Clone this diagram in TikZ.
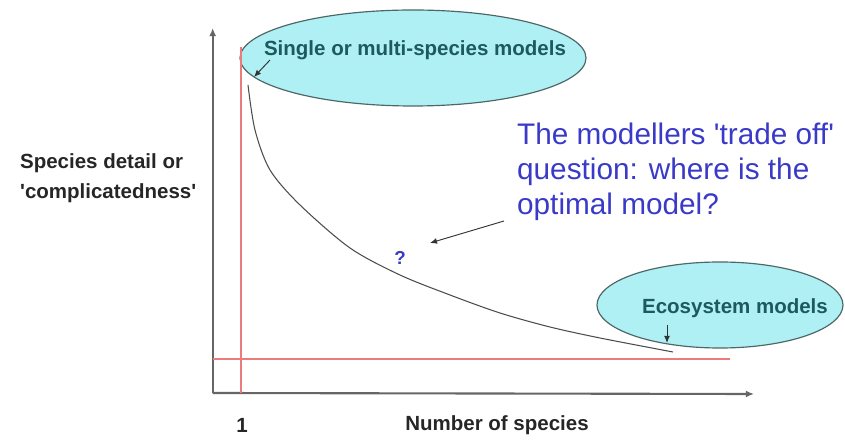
\documentclass[tikz,border=0pt]{standalone}
\usepackage{fontspec}
\setmainfont{Liberation Sans}
\usetikzlibrary{shapes.geometric,arrows.meta}

\definecolor{axisgray}{HTML}{666666}
\definecolor{guidered}{HTML}{EE7B7B}
\definecolor{bubblefill}{HTML}{AEF0F4}
\definecolor{bubbleedge}{HTML}{4E6666}
\definecolor{tealtext}{HTML}{1D5A5E}
\definecolor{askblue}{HTML}{3A3AC8}

\tikzset{
  axis/.style={draw=axisgray,line width=1.8pt,-{Latex[length=7pt,width=6pt]}},
  guide/.style={draw=guidered,line width=1.1pt},
  bubble/.style={ellipse,draw=bubbleedge,fill=bubblefill,line width=1pt,inner sep=0pt},
  bubbletext/.style={font=\bfseries\fontsize{17.5}{21}\selectfont,text=tealtext},
  label/.style={font=\bfseries\fontsize{17.5}{25.5}\selectfont,text=black!85},
  pointer/.style={draw=black!80,line width=0.8pt,-{Latex[length=6pt,width=5pt]}}
}

\begin{document}
\begin{tikzpicture}[x=0.3mm,y=0.3mm]
\useasboundingbox (0,0) rectangle (845,441);

% axes
\coordinate (origin) at (212.7,48);
\coordinate (ytop) at (212.7,413);
\coordinate (xend) at (754,47);
\draw[axis] (origin) -- (ytop);
\draw[axis] (origin) -- (xend);

% bubbles
\node[bubble,minimum width=103.8mm,minimum height=28.8mm] (single) at (413,383) {};
\node[bubble,minimum width=73.8mm,minimum height=25.8mm] (eco) at (720,136) {};
\node[bubbletext] (singletxt) at (415,391) {Single or multi-species models};
\node[bubbletext] (ecotxt) at (735,133) {Ecosystem models};

% one species / baseline guides
\coordinate (redtop) at (241,394);
\coordinate (redbot) at (241,48);
\coordinate (redleft) at (212.7,82);
\coordinate (redright) at (730,82);
\draw[guide] (redtop) -- (redbot);
\draw[guide] (redleft) -- (redright);

% trade off curve
\draw[draw=black!70,line width=0.9pt] plot[smooth] coordinates {
  (248,356) (255,311) (270,271) (300,236) (350,193) (400,166)
  (450,146) (500,128) (550,114) (600,103) (673,89)};

% pointers
\coordinate (singletip) at (254,364);
\coordinate (singlefrom) at (270,381);
\coordinate (ecofrom) at (667,116);
\coordinate (ecotip) at (667,98);
\draw[pointer] (singlefrom) -- (singletip);
\draw[pointer] (ecofrom) -- (ecotip);

\node[align=left,anchor=west,text=askblue,font=\fontsize{25.4}{29.8}\selectfont] (question) at (513,269)
  {The modellers \textquotesingle trade off\textquotesingle\\question: where is the\\optimal model?};
\node[text=askblue,font=\bfseries\fontsize{16}{18}\selectfont] (mark) at (400,183) {?};
\coordinate (askfrom) at (504,220);
\coordinate (asktip) at (430,198);
\draw[pointer] (askfrom) -- (asktip);

% axis labels
\node[label,align=left,anchor=west] (ylab) at (16,263) {Species detail or\\\textquotesingle complicatedness\textquotesingle};
\node[label] (one) at (242,16) {1};
\node[label] (xlab) at (497,16) {Number of species};
\end{tikzpicture}
\end{document}
